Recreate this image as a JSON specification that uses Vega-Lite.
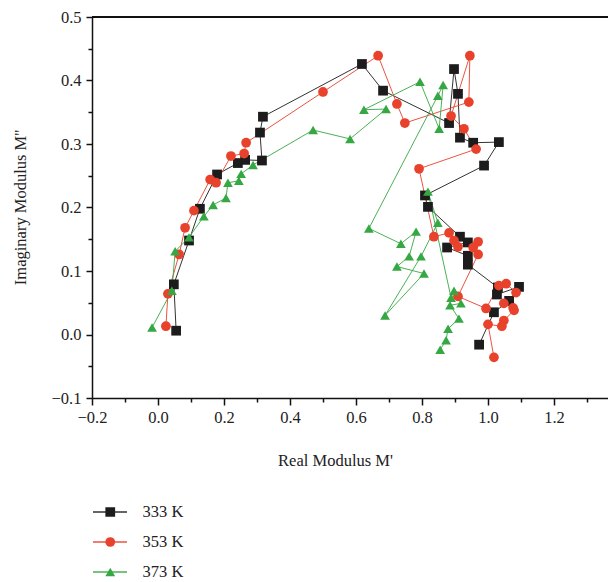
{
  "$schema": "https://vega.github.io/schema/vega-lite/v6.json",
  "autosize": {"type": "none"},
  "width": 516,
  "height": 381,
  "padding": {"left": 92, "top": 17, "right": 0, "bottom": 184},
  "background": "white",
  "config": {
    "view": {"stroke": null},
    "font": "Liberation Serif",
    "axis": {
      "grid": false,
      "domainColor": "#111",
      "domainWidth": 1.5,
      "tickColor": "#111",
      "tickWidth": 1.5,
      "labelFont": "Liberation Serif",
      "labelFontSize": 16.5,
      "labelColor": "#222",
      "titleFont": "Liberation Serif",
      "titleFontSize": 16.5,
      "titleFontWeight": "normal",
      "titleColor": "#222"
    },
    "legend": {
      "labelFont": "Liberation Serif",
      "labelFontSize": 16.5,
      "labelColor": "#222"
    }
  },
  "datasets": {
    "pts": [
      {"s": "333 K", "i": 1, "x": 0.055, "y": 0.006},
      {"s": "333 K", "i": 2, "x": 0.048, "y": 0.079},
      {"s": "333 K", "i": 3, "x": 0.094, "y": 0.148},
      {"s": "333 K", "i": 4, "x": 0.127, "y": 0.198},
      {"s": "333 K", "i": 5, "x": 0.179, "y": 0.252},
      {"s": "333 K", "i": 6, "x": 0.242, "y": 0.270},
      {"s": "333 K", "i": 7, "x": 0.264, "y": 0.275},
      {"s": "333 K", "i": 8, "x": 0.315, "y": 0.274},
      {"s": "333 K", "i": 9, "x": 0.309, "y": 0.318},
      {"s": "333 K", "i": 10, "x": 0.318, "y": 0.343},
      {"s": "333 K", "i": 11, "x": 0.618, "y": 0.426},
      {"s": "333 K", "i": 12, "x": 0.682, "y": 0.384},
      {"s": "333 K", "i": 13, "x": 0.882, "y": 0.333},
      {"s": "333 K", "i": 14, "x": 0.897, "y": 0.418},
      {"s": "333 K", "i": 15, "x": 0.909, "y": 0.379},
      {"s": "333 K", "i": 16, "x": 0.915, "y": 0.310},
      {"s": "333 K", "i": 17, "x": 0.955, "y": 0.302},
      {"s": "333 K", "i": 18, "x": 1.033, "y": 0.303},
      {"s": "333 K", "i": 19, "x": 0.988, "y": 0.266},
      {"s": "333 K", "i": 20, "x": 0.809, "y": 0.219},
      {"s": "333 K", "i": 21, "x": 0.818, "y": 0.201},
      {"s": "333 K", "i": 22, "x": 0.915, "y": 0.154},
      {"s": "333 K", "i": 23, "x": 0.939, "y": 0.145},
      {"s": "333 K", "i": 24, "x": 0.876, "y": 0.137},
      {"s": "333 K", "i": 25, "x": 0.939, "y": 0.124},
      {"s": "333 K", "i": 26, "x": 0.939, "y": 0.110},
      {"s": "333 K", "i": 27, "x": 1.030, "y": 0.074},
      {"s": "333 K", "i": 28, "x": 1.027, "y": 0.063},
      {"s": "333 K", "i": 29, "x": 1.094, "y": 0.075},
      {"s": "333 K", "i": 30, "x": 1.064, "y": 0.053},
      {"s": "333 K", "i": 31, "x": 1.018, "y": 0.035},
      {"s": "333 K", "i": 32, "x": 0.973, "y": -0.016},

      {"s": "353 K", "i": 1, "x": 0.024, "y": 0.013},
      {"s": "353 K", "i": 2, "x": 0.030, "y": 0.064},
      {"s": "353 K", "i": 3, "x": 0.064, "y": 0.126},
      {"s": "353 K", "i": 4, "x": 0.082, "y": 0.168},
      {"s": "353 K", "i": 5, "x": 0.109, "y": 0.195},
      {"s": "353 K", "i": 6, "x": 0.158, "y": 0.244},
      {"s": "353 K", "i": 7, "x": 0.176, "y": 0.239},
      {"s": "353 K", "i": 8, "x": 0.221, "y": 0.281},
      {"s": "353 K", "i": 9, "x": 0.261, "y": 0.285},
      {"s": "353 K", "i": 10, "x": 0.267, "y": 0.302},
      {"s": "353 K", "i": 11, "x": 0.500, "y": 0.382},
      {"s": "353 K", "i": 12, "x": 0.667, "y": 0.439},
      {"s": "353 K", "i": 13, "x": 0.724, "y": 0.363},
      {"s": "353 K", "i": 14, "x": 0.748, "y": 0.333},
      {"s": "353 K", "i": 15, "x": 0.942, "y": 0.366},
      {"s": "353 K", "i": 16, "x": 0.945, "y": 0.439},
      {"s": "353 K", "i": 17, "x": 0.888, "y": 0.344},
      {"s": "353 K", "i": 18, "x": 0.927, "y": 0.324},
      {"s": "353 K", "i": 19, "x": 0.964, "y": 0.292},
      {"s": "353 K", "i": 20, "x": 0.791, "y": 0.261},
      {"s": "353 K", "i": 21, "x": 0.836, "y": 0.154},
      {"s": "353 K", "i": 22, "x": 0.882, "y": 0.160},
      {"s": "353 K", "i": 23, "x": 0.897, "y": 0.148},
      {"s": "353 K", "i": 24, "x": 0.909, "y": 0.138},
      {"s": "353 K", "i": 25, "x": 0.970, "y": 0.146},
      {"s": "353 K", "i": 26, "x": 0.955, "y": 0.137},
      {"s": "353 K", "i": 27, "x": 0.970, "y": 0.126},
      {"s": "353 K", "i": 28, "x": 0.909, "y": 0.060},
      {"s": "353 K", "i": 29, "x": 0.994, "y": 0.041},
      {"s": "353 K", "i": 30, "x": 1.033, "y": 0.077},
      {"s": "353 K", "i": 31, "x": 1.055, "y": 0.080},
      {"s": "353 K", "i": 32, "x": 1.085, "y": 0.066},
      {"s": "353 K", "i": 33, "x": 1.048, "y": 0.049},
      {"s": "353 K", "i": 34, "x": 1.076, "y": 0.042},
      {"s": "353 K", "i": 35, "x": 1.079, "y": 0.038},
      {"s": "353 K", "i": 36, "x": 1.048, "y": 0.022},
      {"s": "353 K", "i": 37, "x": 1.042, "y": 0.013},
      {"s": "353 K", "i": 38, "x": 1.000, "y": 0.016},
      {"s": "353 K", "i": 39, "x": 1.018, "y": -0.036},

      {"s": "373 K", "i": 1, "x": -0.018, "y": 0.011},
      {"s": "373 K", "i": 2, "x": 0.042, "y": 0.069},
      {"s": "373 K", "i": 3, "x": 0.052, "y": 0.131},
      {"s": "373 K", "i": 4, "x": 0.094, "y": 0.153},
      {"s": "373 K", "i": 5, "x": 0.139, "y": 0.186},
      {"s": "373 K", "i": 6, "x": 0.167, "y": 0.204},
      {"s": "373 K", "i": 7, "x": 0.206, "y": 0.215},
      {"s": "373 K", "i": 8, "x": 0.212, "y": 0.239},
      {"s": "373 K", "i": 9, "x": 0.245, "y": 0.242},
      {"s": "373 K", "i": 10, "x": 0.252, "y": 0.253},
      {"s": "373 K", "i": 11, "x": 0.288, "y": 0.267},
      {"s": "373 K", "i": 12, "x": 0.470, "y": 0.322},
      {"s": "373 K", "i": 13, "x": 0.582, "y": 0.308},
      {"s": "373 K", "i": 14, "x": 0.691, "y": 0.355},
      {"s": "373 K", "i": 15, "x": 0.624, "y": 0.354},
      {"s": "373 K", "i": 16, "x": 0.794, "y": 0.398},
      {"s": "373 K", "i": 17, "x": 0.852, "y": 0.324},
      {"s": "373 K", "i": 18, "x": 0.864, "y": 0.393},
      {"s": "373 K", "i": 19, "x": 0.848, "y": 0.376},
      {"s": "373 K", "i": 20, "x": 0.639, "y": 0.167},
      {"s": "373 K", "i": 21, "x": 0.736, "y": 0.143},
      {"s": "373 K", "i": 22, "x": 0.782, "y": 0.162},
      {"s": "373 K", "i": 23, "x": 0.761, "y": 0.123},
      {"s": "373 K", "i": 24, "x": 0.724, "y": 0.107},
      {"s": "373 K", "i": 25, "x": 0.806, "y": 0.096},
      {"s": "373 K", "i": 26, "x": 0.688, "y": 0.030},
      {"s": "373 K", "i": 27, "x": 0.797, "y": 0.123},
      {"s": "373 K", "i": 28, "x": 0.848, "y": 0.176},
      {"s": "373 K", "i": 29, "x": 0.818, "y": 0.225},
      {"s": "373 K", "i": 30, "x": 0.888, "y": 0.058},
      {"s": "373 K", "i": 31, "x": 0.897, "y": 0.069},
      {"s": "373 K", "i": 32, "x": 0.918, "y": 0.049},
      {"s": "373 K", "i": 33, "x": 0.885, "y": 0.046},
      {"s": "373 K", "i": 34, "x": 0.912, "y": 0.025},
      {"s": "373 K", "i": 35, "x": 0.879, "y": 0.009},
      {"s": "373 K", "i": 36, "x": 0.873, "y": -0.009},
      {"s": "373 K", "i": 37, "x": 0.855, "y": -0.024}
    ]
  },
  "data": {"name": "pts"},
  "encoding": {
    "x": {
      "field": "x", "type": "quantitative",
      "scale": {"domain": [-0.2, 1.3636], "nice": false, "zero": false},
      "axis": {
        "title": "Real Modulus M'",
        "values": [-0.2, -0.1, 0, 0.1, 0.2, 0.3, 0.4, 0.5, 0.6, 0.7, 0.8, 0.9, 1.0, 1.1, 1.2, 1.3],
        "labelExpr": "abs(round(datum.value*10)) % 2 == 0 ? format(datum.value, '.1f') : ''",
        "tickSize": {"condition": {"test": "abs(round(datum.value*10)) % 2 == 0", "value": 7}, "value": 4},
        "labelPadding": 4,
        "labelFlush": false,
        "labelOverlap": false,
        "titleX": 243,
        "titleY": 62,
        "titleAlign": "center",
        "titleBaseline": "middle"
      }
    },
    "y": {
      "field": "y", "type": "quantitative",
      "scale": {"domain": [-0.1, 0.5], "nice": false, "zero": false},
      "axis": {
        "title": "Imaginary Modulus M''",
        "values": [-0.1, -0.05, 0, 0.05, 0.1, 0.15, 0.2, 0.25, 0.3, 0.35, 0.4, 0.45, 0.5],
        "labelExpr": "abs(round(datum.value*20)) % 2 == 0 ? format(datum.value, '.1f') : ''",
        "tickSize": {"condition": {"test": "abs(round(datum.value*20)) % 2 == 0", "value": 6}, "value": 4},
        "labelPadding": 5,
        "labelFlush": false,
        "labelOverlap": false,
        "titleX": -72,
        "titleY": 190,
        "titleAlign": "center",
        "titleBaseline": "middle"
      }
    }
  },
  "layer": [
    {
      "mark": {"type": "rule", "color": "#111", "strokeWidth": 1.5},
      "encoding": {"y": {"datum": 0.5}, "x": null}
    },
    {
      "mark": {"type": "line", "strokeWidth": 1, "opacity": 0.9},
      "encoding": {
        "order": {"field": "i", "type": "quantitative"},
        "color": {
          "field": "s", "type": "nominal",
          "scale": {"domain": ["333 K", "353 K", "373 K"], "range": ["#1c1c1c", "#e8412c", "#35a844"]},
          "legend": {
            "title": null,
            "orient": "none",
            "legendX": 0,
            "legendY": 487,
            "symbolType": "stroke",
            "symbolSize": 1156,
            "symbolStrokeWidth": 1.5,
            "clipHeight": 16,
            "rowPadding": 13,
            "labelExpr": "''"
          }
        }
      }
    },
    {
      "mark": {"type": "point", "filled": true, "opacity": 1, "size": 95},
      "encoding": {
        "fill": {
          "field": "s", "type": "nominal",
          "scale": {"range": ["#1c1c1c", "#e8412c", "#35a844"]},
          "legend": {
            "title": null,
            "orient": "none",
            "legendX": 10,
            "legendY": 487,
            "symbolSize": 95,
            "symbolOpacity": 1,
            "clipHeight": 16,
            "rowPadding": 13,
            "labelOffset": 24
          }
        },
        "shape": {
          "field": "s", "type": "nominal",
          "scale": {"range": ["square", "circle", "triangle-up"]},
          "legend": {
            "title": null,
            "orient": "none",
            "legendX": 10,
            "legendY": 487,
            "symbolSize": 95,
            "symbolOpacity": 1,
            "clipHeight": 16,
            "rowPadding": 13,
            "labelOffset": 24
          }
        }
      }
    }
  ]
}
